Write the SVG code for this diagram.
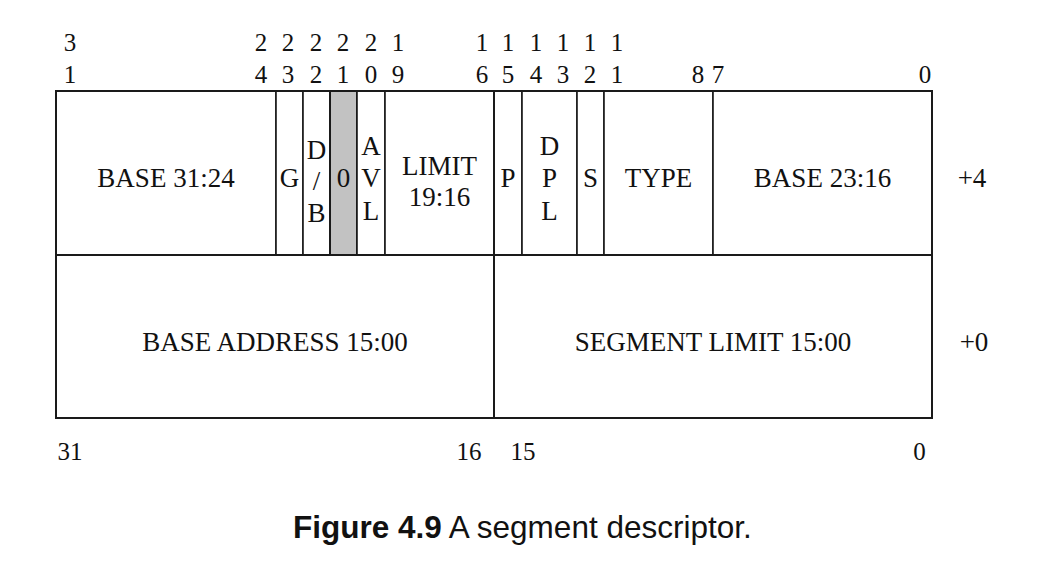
<svg xmlns="http://www.w3.org/2000/svg" width="1050" height="584" viewBox="0 0 1050 584">
<style>
  .cell { fill: #ffffff; stroke: #1a1a1a; stroke-width: 1.6; }
  .shade { fill: #c2c2c2; stroke: #1a1a1a; stroke-width: 2; }
  .lbl { font-family: "Liberation Serif", "Times New Roman", serif; font-size: 27px; fill: #111; text-anchor: middle; }
  .bit { font-family: "Liberation Serif", "Times New Roman", serif; font-size: 25px; fill: #111; text-anchor: middle; }
  .cap { font-family: "Liberation Sans", Arial, sans-serif; font-size: 31.5px; fill: #111; }
  .frame { fill: none; stroke: #1a1a1a; stroke-width: 2; }
</style>
<rect width="1050" height="584" fill="#ffffff"/>

<g id="bit-numbers-top">
  <text class="bit" x="70" y="51">3</text><text class="bit" x="70" y="83">1</text>
  <text class="bit" x="261" y="51">2</text><text class="bit" x="261" y="83">4</text>
  <text class="bit" x="288" y="51">2</text><text class="bit" x="288" y="83">3</text>
  <text class="bit" x="316" y="51">2</text><text class="bit" x="316" y="83">2</text>
  <text class="bit" x="343" y="51">2</text><text class="bit" x="343" y="83">1</text>
  <text class="bit" x="371" y="51">2</text><text class="bit" x="371" y="83">0</text>
  <text class="bit" x="398" y="51">1</text><text class="bit" x="398" y="83">9</text>
  <text class="bit" x="482" y="51">1</text><text class="bit" x="482" y="83">6</text>
  <text class="bit" x="508" y="51">1</text><text class="bit" x="508" y="83">5</text>
  <text class="bit" x="536" y="51">1</text><text class="bit" x="536" y="83">4</text>
  <text class="bit" x="563" y="51">1</text><text class="bit" x="563" y="83">3</text>
  <text class="bit" x="590" y="51">1</text><text class="bit" x="590" y="83">2</text>
  <text class="bit" x="617" y="51">1</text><text class="bit" x="617" y="83">1</text>
  <text class="bit" x="698" y="83">8</text>
  <text class="bit" x="718" y="83">7</text>
  <text class="bit" x="925" y="83">0</text>
</g>

<g id="field-base-31-24">
  <rect class="cell" x="56" y="91" width="220" height="164"/>
  <text class="lbl" x="166" y="187">BASE 31:24</text>
</g>
<g id="field-g">
  <rect class="cell" x="276" y="91" width="27" height="164"/>
  <text class="lbl" x="289.5" y="187">G</text>
</g>
<g id="field-db">
  <rect class="cell" x="303" y="91" width="27" height="164"/>
  <text class="lbl" x="316.5" y="159">D</text>
  <text class="lbl" x="316.5" y="190">/</text>
  <text class="lbl" x="316.5" y="222">B</text>
</g>
<g id="field-zero">
  <rect class="shade" x="330" y="91" width="27" height="164"/>
  <text class="lbl" x="343.5" y="187">0</text>
</g>
<g id="field-avl">
  <rect class="cell" x="357" y="91" width="28" height="164"/>
  <text class="lbl" x="371" y="155">A</text>
  <text class="lbl" x="371" y="187">V</text>
  <text class="lbl" x="371" y="220">L</text>
</g>
<g id="field-limit-19-16">
  <rect class="cell" x="385" y="91" width="109" height="164"/>
  <text class="lbl" x="439.5" y="175">LIMIT</text>
  <text class="lbl" x="439.5" y="206">19:16</text>
</g>
<g id="field-p">
  <rect class="cell" x="494" y="91" width="28" height="164"/>
  <text class="lbl" x="508" y="187">P</text>
</g>
<g id="field-dpl">
  <rect class="cell" x="522" y="91" width="55" height="164"/>
  <text class="lbl" x="549.5" y="155">D</text>
  <text class="lbl" x="549.5" y="187">P</text>
  <text class="lbl" x="549.5" y="220">L</text>
</g>
<g id="field-s">
  <rect class="cell" x="577" y="91" width="27" height="164"/>
  <text class="lbl" x="590.5" y="187">S</text>
</g>
<g id="field-type">
  <rect class="cell" x="604" y="91" width="109" height="164"/>
  <text class="lbl" x="658.5" y="187">TYPE</text>
</g>
<g id="field-base-23-16">
  <rect class="cell" x="713" y="91" width="219" height="164"/>
  <text class="lbl" x="822.5" y="187">BASE 23:16</text>
</g>
<g id="offset-4">
  <text class="lbl" x="972" y="187">+4</text>
</g>

<g id="field-base-address-15-00">
  <rect class="cell" x="56" y="255" width="438" height="163"/>
  <text class="lbl" x="275" y="351">BASE ADDRESS 15:00</text>
</g>
<g id="field-segment-limit-15-00">
  <rect class="cell" x="494" y="255" width="438" height="163"/>
  <text class="lbl" x="713" y="351">SEGMENT LIMIT 15:00</text>
</g>
<g id="offset-0">
  <text class="lbl" x="974" y="351">+0</text>
</g>

<g id="connectors">
  <rect class="frame" x="56" y="91" width="876" height="327"/>
  <line x1="56" y1="255" x2="932" y2="255" stroke="#1a1a1a" stroke-width="2"/>
  <line x1="494" y1="91" x2="494" y2="418" stroke="#1a1a1a" stroke-width="2"/>
</g>

<g id="bit-numbers-bottom">
  <text class="bit" x="70" y="460">31</text>
  <text class="bit" x="469" y="460">16</text>
  <text class="bit" x="523" y="460">15</text>
  <text class="bit" x="919.5" y="460">0</text>
</g>

<g id="caption">
  <text class="cap" x="293" y="538"><tspan font-weight="bold">Figure 4.9</tspan> A segment descriptor.</text>
</g>
</svg>
